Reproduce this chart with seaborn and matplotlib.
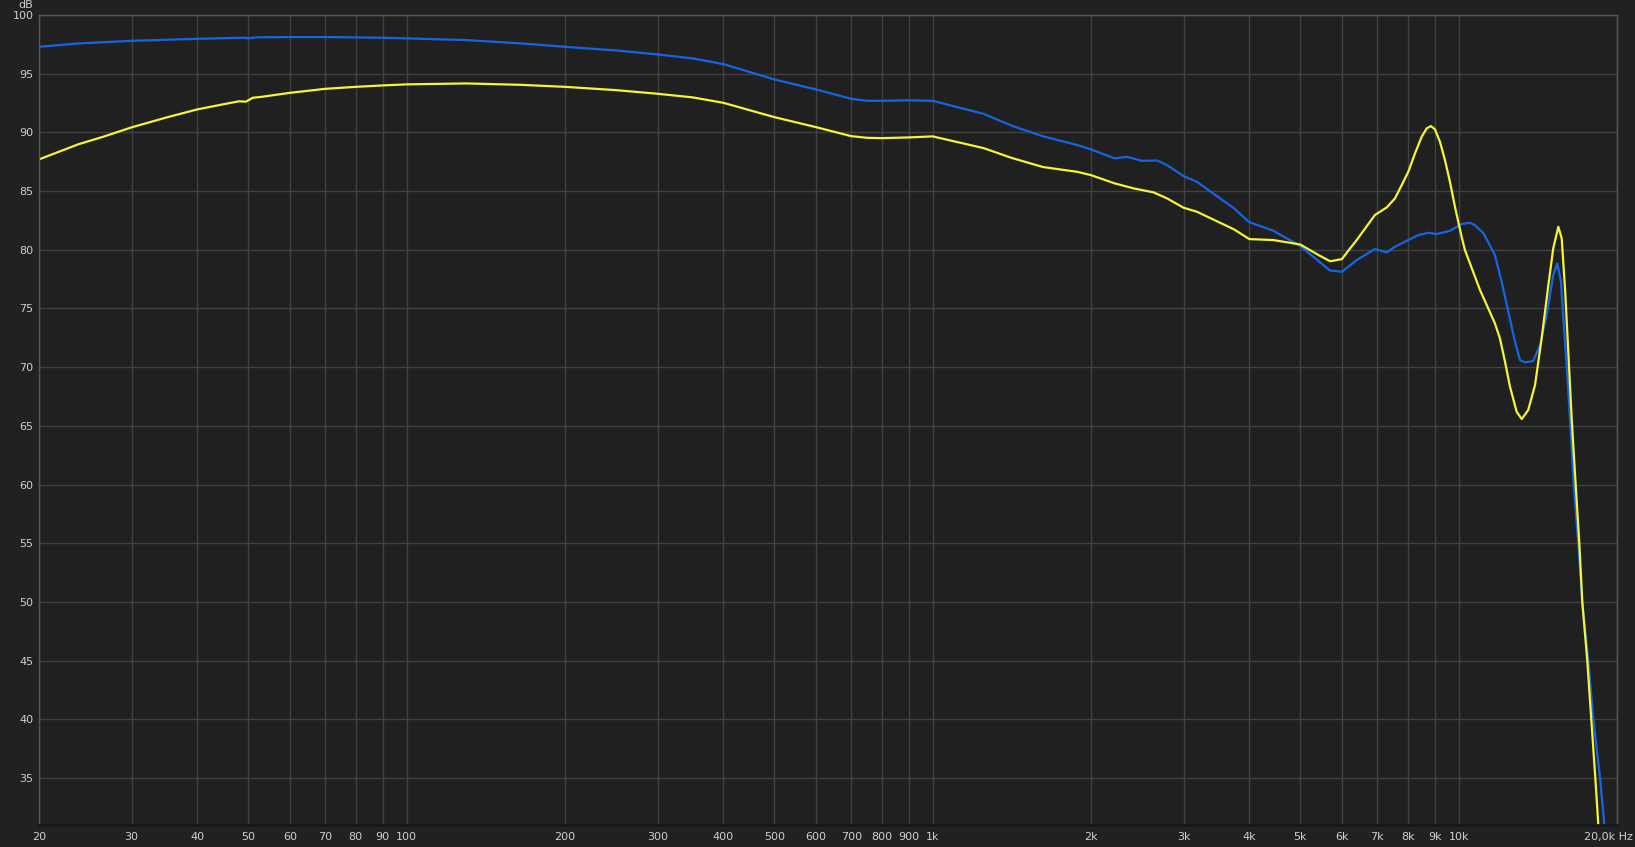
import matplotlib
matplotlib.use("Agg")
import matplotlib.pyplot as plt
import seaborn as sns
import pandas as pd

# frequency response data (Hz, dB)
blue_freq = [20, 23.8, 30, 40, 49, 50, 52, 60, 70, 80, 90, 100, 130, 165, 200, 250, 300,
             350, 400, 500, 600, 700, 750, 800, 900, 1000, 1250, 1412, 1620, 1884, 2000,
             2217, 2340, 2500, 2670, 2790, 3000, 3180, 3740, 4000, 4440, 5000, 5690, 6000,
             6400, 6930, 7300, 7567, 8021, 8380, 8755, 9082, 9626, 10130, 10510, 10740,
             11150, 11720, 12070, 12430, 12800, 13080, 13370, 13860, 14280, 14700, 15130,
             15400, 15650, 15880, 16120, 16350, 16550, 16880, 17180, 17640, 18030, 18570,
             18920, 19150]
blue_db = [97.29, 97.58, 97.80, 97.97, 98.07, 98.02, 98.10, 98.12, 98.12, 98.09, 98.06,
           98.01, 97.86, 97.58, 97.29, 96.98, 96.64, 96.30, 95.82, 94.51, 93.66, 92.86,
           92.69, 92.69, 92.73, 92.69, 91.58, 90.58, 89.67, 88.92, 88.55, 87.79, 87.92,
           87.58, 87.61, 87.21, 86.28, 85.79, 83.53, 82.35, 81.63, 80.32, 78.24, 78.13,
           79.12, 80.06, 79.78, 80.26, 80.83, 81.25, 81.45, 81.34, 81.62, 82.19, 82.30,
           82.10, 81.40, 79.55, 77.28, 74.72, 72.16, 70.60, 70.41, 70.52, 71.88, 74.44,
           77.85, 78.84, 77.28, 73.02, 68.76, 64.20, 60.0, 55.0, 50.0, 45.0, 40.0, 35.0,
           31.0, 29.0]

yellow_freq = [20, 23.8, 26.5, 30, 35, 40, 45, 48, 49.5, 51, 53, 60, 70, 80, 90, 100, 130,
               165, 200, 250, 300, 350, 400, 500, 600, 700, 750, 800, 900, 1000, 1250,
               1412, 1620, 1884, 2000, 2217, 2410, 2630, 2790, 3000, 3180, 3740, 4000,
               4440, 5000, 5430, 5700, 6000, 6180, 6400, 6930, 7300, 7567, 7793, 8021,
               8260, 8506, 8694, 8858, 9014, 9214, 9418, 9626, 9839, 10130, 10280, 10980,
               11720, 11980, 12250, 12520, 12890, 13180, 13560, 13970, 14380, 14810,
               15130, 15470, 15700, 15930, 16160, 16400, 16690, 16960, 17180, 17560,
               17870, 18190, 18430, 18600]
yellow_db = [87.70, 89.00, 89.63, 90.43, 91.28, 91.96, 92.41, 92.65, 92.62, 92.95, 93.03,
             93.37, 93.71, 93.88, 94.00, 94.09, 94.17, 94.05, 93.88, 93.60, 93.29, 92.98,
             92.52, 91.30, 90.45, 89.68, 89.54, 89.51, 89.57, 89.66, 88.66, 87.83, 87.05,
             86.64, 86.36, 85.66, 85.23, 84.89, 84.38, 83.58, 83.24, 81.74, 80.91, 80.83,
             80.45, 79.52, 79.02, 79.21, 79.97, 80.83, 82.96, 83.61, 84.38, 85.51, 86.64,
             88.21, 89.63, 90.34, 90.54, 90.26, 89.20, 87.64, 85.79, 83.66, 81.11, 79.97,
             76.57, 73.73, 72.45, 70.46, 68.33, 66.20, 65.58, 66.35, 68.48, 72.45, 77.00,
             80.12, 81.96, 80.97, 76.71, 71.31, 65.64, 60.0, 55.0, 50.0, 45.0, 40.0, 35.0,
             31.0, 29.0]

x_ticks = [20, 30, 40, 50, 60, 70, 80, 90, 100, 200, 300, 400, 500, 600, 700, 800, 900,
           1000, 2000, 3000, 4000, 5000, 6000, 7000, 8000, 9000, 10000, 20000]
x_labels = ["20", "30", "40", "50", "60", "70", "80", "90", "100", "200", "300", "400",
            "500", "600", "700", "800", "900", "1k", "2k", "3k", "4k", "5k", "6k", "7k",
            "8k", "9k", "10k", ""]
y_ticks = list(range(35, 101, 5))

bg = "#212121"
grid_c = "#414141"
text_c = "#cfcfcf"

sns.set_theme(style="dark", rc={
    "figure.facecolor": bg,
    "axes.facecolor": "#202020",
    "axes.grid": True,
    "grid.color": grid_c,
    "grid.linewidth": 1.0,
    "xtick.color": text_c,
    "ytick.color": text_c,
})
plt.rcParams["font.family"] = ["DejaVu Sans"]

df = pd.concat([
    pd.DataFrame({"freq": blue_freq, "db": blue_db, "ch": "blue"}),
    pd.DataFrame({"freq": yellow_freq, "db": yellow_db, "ch": "yellow"}),
])

fig = plt.figure(figsize=(16.35, 8.47), dpi=100)
ax = fig.add_axes([39 / 1635, 1 - 825 / 847, (1617 - 39) / 1635, (825 - 15) / 847])

sns.lineplot(data=df, x="freq", y="db", hue="ch", sort=False, estimator=None,
             palette={"blue": "#1565e3", "yellow": "#f4f43a"}, linewidth=1.6,
             legend=False, ax=ax)
for line in ax.get_lines():
    line.set_solid_joinstyle("round")

ax.set_xscale("log")
ax.set_xlim(20, 20000)
ax.set_ylim(31, 100)
ax.set_xticks(x_ticks)
ax.set_xticklabels(x_labels)
ax.xaxis.set_minor_locator(matplotlib.ticker.NullLocator())
ax.set_yticks(y_ticks)
ax.tick_params(axis="both", length=0, labelsize=8, colors=text_c)
ax.tick_params(axis="y", pad=4)
ax.tick_params(axis="x", pad=5)
ax.set_xlabel("")
ax.set_ylabel("")
ax.grid(True, which="major", color=grid_c, linewidth=1.0)

for side in ["top", "right", "left"]:
    ax.spines[side].set_color("#575757")
    ax.spines[side].set_linewidth(1.0)
ax.spines["bottom"].set_color("#171717")
ax.spines["bottom"].set_linewidth(2.0)

fig.text(33 / 1635, 1 - 5.5 / 847, "dB", ha="right", va="center", fontsize=8, color=text_c)
fig.text(1633 / 1635, 1 - 837 / 847, "20,0k Hz", ha="right", va="center", fontsize=8,
         color=text_c)

fig.savefig("out.png", dpi=100, facecolor=bg)
